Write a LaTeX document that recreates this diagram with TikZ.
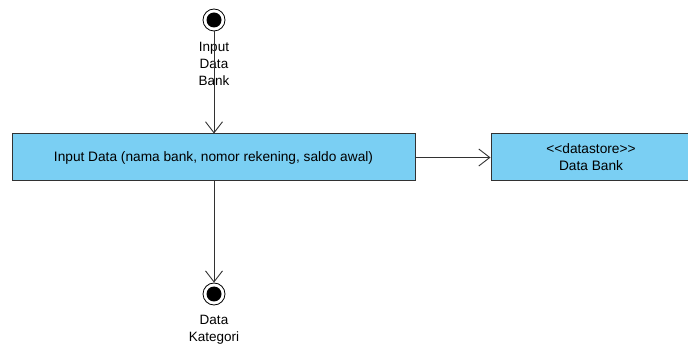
\documentclass[tikz,border=0pt]{standalone}
\usepackage{fontspec}
\setmainfont[Ligatures=NoCommon]{Liberation Sans}
\usetikzlibrary{arrows.meta}
\definecolor{boxblue}{RGB}{122,207,243}
\definecolor{edge}{RGB}{50,50,50}
\begin{document}
\begin{tikzpicture}[x=1pt,y=-1pt,
  actbox/.style={draw=edge,fill=boxblue,line width=1pt,minimum height=47pt,inner sep=0pt,font=\fontsize{13.7}{17}\selectfont,align=center},
  flow/.style={draw=edge,line width=0.9pt,-{Straight Barb[length=11pt,width=17pt,line width=0.9pt]}},
  lbl/.style={font=\fontsize{13.5}{17}\selectfont,align=center,inner sep=0pt},
  endring/.style={circle,draw=black,fill=white,line width=0.8pt,minimum size=22pt,inner sep=0pt},
  enddot/.style={circle,fill=black,minimum size=15pt,inner sep=0pt}]
\useasboundingbox (0,0) rectangle (688,347);
\node[actbox,minimum width=403pt] (act) at (213.5,157.5) {Input Data (nama bank, nomor rekening, saldo awal)};
\node[actbox,minimum width=200pt] (store) at (591,157.5) {\mbox{<}\kern0pt\mbox{<}datastore\mbox{>}\kern0pt\mbox{>}\\Data Bank};
\node[endring] (start) at (214,20) {};
\node[enddot] at (start) {};
\node[endring] (fin) at (214,294) {};
\node[enddot] at (fin) {};
\node[lbl] (startlbl) at (214,64) {Input\\Data\\Bank};
\node[lbl] (finlbl) at (214,330) {Data\\Kategori};
\draw[flow] (start.south) -- (start.south |- act.north);
\draw[flow] (act.east) -- (store.west);
\draw[flow] (act.south -| fin.north) -- (fin.north);
\end{tikzpicture}
\end{document}
